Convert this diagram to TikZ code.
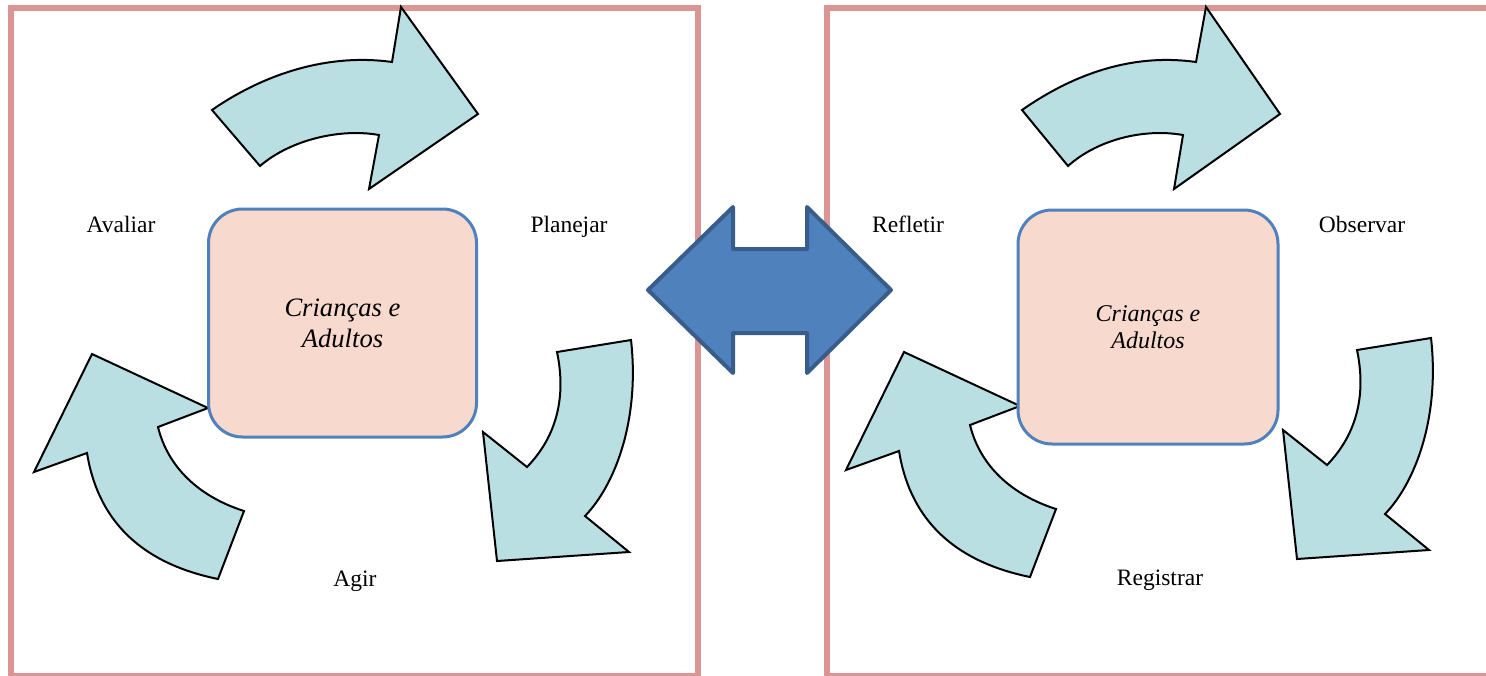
\documentclass[tikz,border=0pt]{standalone}
\usepackage{fontspec}
\setmainfont{Liberation Serif}
\definecolor{panelline}{HTML}{D99694}
\definecolor{arrowfill}{HTML}{B9DFE3}
\definecolor{hubfill}{HTML}{F8D9CE}
\definecolor{hubline}{HTML}{4F81BD}
\definecolor{bigfill}{HTML}{4F81BD}
\definecolor{bigline}{HTML}{385D8A}
\begin{document}
\begin{tikzpicture}[x=0.5pt,y=-0.5pt,
  panelbox/.style={draw=panelline, line width=3pt},
  cyclearrow/.style={fill=arrowfill, draw=black, line width=1pt, line join=miter},
  hub/.style={rectangle, rounded corners=17pt, fill=hubfill, draw=hubline, line width=1.5pt,
    align=center, inner sep=0pt},
  lbl/.style={font=\fontsize{11.75}{14}\selectfont, anchor=base, inner sep=0pt},
  bigarrow/.style={fill=bigfill, draw=bigline, line width=2pt, line join=round}]
\path[use as bounding box] (0,0) rectangle (1486,675);
\clip (0,0) rectangle (1486,675);
% panels
\draw[panelbox] (11,8) rectangle (698,675.7);
\draw[panelbox] (827,8) rectangle (1500,675.7);
% left panel cycle arrows
\draw[cyclearrow] (212,110) .. controls (255,80) and (320,52) .. (392,62) -- (401,7) -- (478,114) -- (369,189) -- (379,135) .. controls (340,128) and (290,140) .. (260,166) -- cycle;
\draw[cyclearrow] (631,340) -- (557,352) .. controls (566,395) and (558,435) .. (527,467) -- (483,432) -- (497,561) -- (629,552) -- (585,516) .. controls (615,485) and (640,420) .. (631,340) -- cycle;
\draw[cyclearrow] (218,579) -- (244,511) .. controls (200,497) and (168,468) .. (158,427) -- (208,408) -- (92,354) -- (34,472) -- (87,453) .. controls (97,515) and (135,562) .. (218,579) -- cycle;
% right panel cycle arrows
\draw[cyclearrow] (1022,110) .. controls (1065,80) and (1125,52) .. (1196,62) -- (1206,7) -- (1280,114) -- (1174,189) -- (1183,135) .. controls (1143,128) and (1097,140) .. (1068,166) -- cycle;
\begin{scope}[shift={(800,-2)}]
\draw[cyclearrow] (631,340) -- (557,352) .. controls (566,395) and (558,435) .. (527,467) -- (483,432) -- (497,561) -- (629,552) -- (585,516) .. controls (615,485) and (640,420) .. (631,340) -- cycle;
\end{scope}
\begin{scope}[shift={(812,-2)}]
\draw[cyclearrow] (218,579) -- (244,511) .. controls (200,497) and (168,468) .. (158,427) -- (208,408) -- (92,354) -- (34,472) -- (87,453) .. controls (97,515) and (135,562) .. (218,579) -- cycle;
\end{scope}
% hubs
\node[hub, minimum width=134pt, minimum height=114pt, font=\fontsize{13.3}{15.5}\selectfont\itshape] (lhub) at (342.5,323) {Crianças e\\Adultos};
\node[hub, minimum width=130pt, minimum height=117pt, font=\fontsize{12}{13.2}\selectfont\itshape] (rhub) at (1148,327) {Crianças e\\Adultos};
% labels
\node[lbl] (avaliar) at (121,232) {Avaliar};
\node[lbl] (planejar) at (569,232) {Planejar};
\node[lbl] (agir) at (355,586) {Agir};
\node[lbl] (refletir) at (908,232) {Refletir};
\node[lbl] (observar) at (1362,232) {Observar};
\node[lbl] (registrar) at (1160,585) {Registrar};
% central double arrow
\draw[bigarrow] (648,290) -- (733,207) -- (733,249) -- (807,249) -- (807,207) -- (891,290) -- (807,373) -- (807,333) -- (733,333) -- (733,373) -- cycle;
\end{tikzpicture}
\end{document}
